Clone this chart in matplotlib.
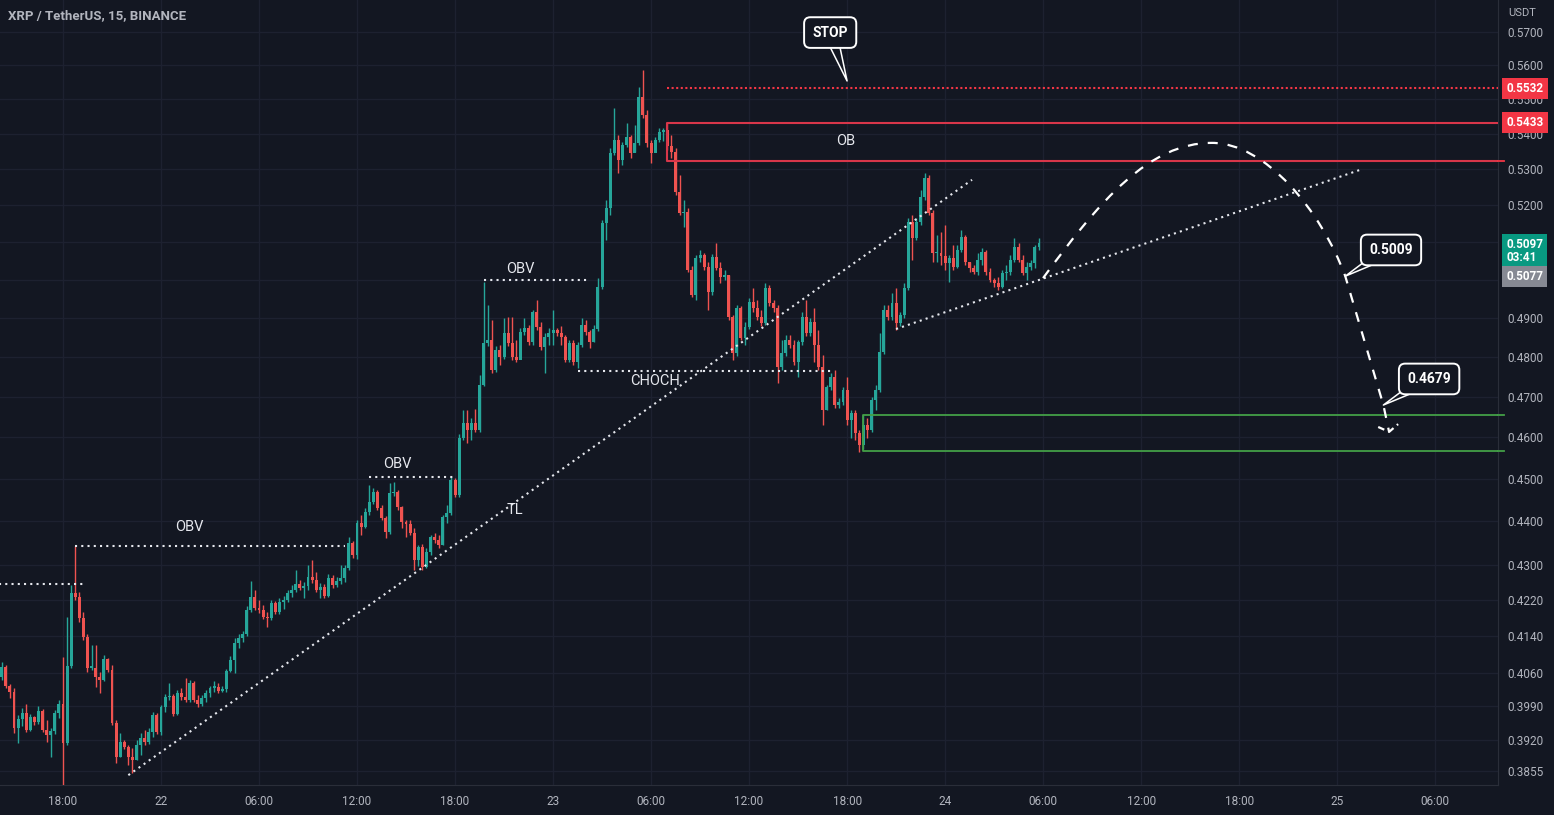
import numpy as np
import pandas as pd
import matplotlib
matplotlib.use('Agg')
import matplotlib.pyplot as plt
import matplotlib.dates as mdates
import matplotlib.transforms as mtransforms
from matplotlib.path import Path
from matplotlib.patches import PathPatch
from matplotlib.ticker import FixedLocator, FixedFormatter, NullLocator

plt.rcParams['font.family'] = ['Roboto', 'DejaVu Sans']

# ---- data (XRP/USDT 15m candles) ----
start_time = '2023-03-21 14:15'
first_open = 0.4052

closes = [
    0.4074, 0.4033, 0.4020, 0.3944, 0.3963, 0.3976, 0.3940, 0.3967, 0.3957, 0.3980,
    0.3940, 0.3930, 0.3938, 0.3976, 0.3995, 0.3913, 0.4076, 0.4236, 0.4228, 0.4180,
    0.4139, 0.4072, 0.4072, 0.4052, 0.4046, 0.4091, 0.4067, 0.3955, 0.3884, 0.3915,
    0.3905, 0.3884, 0.3878, 0.3909, 0.3923, 0.3915, 0.3936, 0.3971, 0.3936, 0.3988,
    0.4009, 0.4011, 0.3974, 0.4018, 0.4009, 0.4003, 0.4040, 0.4003, 0.3995, 0.4007,
    0.4018, 0.4029, 0.4031, 0.4022, 0.4027, 0.4065, 0.4089, 0.4125, 0.4136, 0.4145,
    0.4198, 0.4228, 0.4203, 0.4198, 0.4183, 0.4180, 0.4214, 0.4194, 0.4216, 0.4221,
    0.4236, 0.4243, 0.4256, 0.4247, 0.4252, 0.4272, 0.4265, 0.4243, 0.4250, 0.4230,
    0.4270, 0.4254, 0.4263, 0.4270, 0.4293, 0.4350, 0.4323, 0.4396, 0.4387, 0.4421,
    0.4445, 0.4468, 0.4431, 0.4408, 0.4375, 0.4466, 0.4468, 0.4433, 0.4398, 0.4394,
    0.4373, 0.4311, 0.4341, 0.4295, 0.4329, 0.4364, 0.4357, 0.4346, 0.4410, 0.4419,
    0.4497, 0.4461, 0.4598, 0.4635, 0.4618, 0.4635, 0.4618, 0.4729, 0.4835, 0.4843,
    0.4767, 0.4817, 0.4800, 0.4861, 0.4835, 0.4800, 0.4792, 0.4864, 0.4874, 0.4838,
    0.4915, 0.4876, 0.4825, 0.4851, 0.4861, 0.4869, 0.4861, 0.4851, 0.4792, 0.4835,
    0.4787, 0.4830, 0.4881, 0.4864, 0.4838, 0.4871, 0.4981, 0.5152, 0.5193, 0.5347,
    0.5383, 0.5327, 0.5369, 0.5392, 0.5347, 0.5375, 0.5508, 0.5456, 0.5375, 0.5347,
    0.5383, 0.5406, 0.5412, 0.5366, 0.5349, 0.5237, 0.5180, 0.5183, 0.5026, 0.4960,
    0.5057, 0.5065, 0.5034, 0.4968, 0.5060, 0.5031, 0.5007, 0.5013, 0.4902, 0.4810,
    0.4925, 0.4848, 0.4876, 0.4941, 0.4925, 0.4902, 0.4886, 0.4978, 0.4938, 0.4925,
    0.4775, 0.4810, 0.4843, 0.4830, 0.4787, 0.4838, 0.4902, 0.4861, 0.4889, 0.4830,
    0.4775, 0.4667, 0.4724, 0.4749, 0.4680, 0.4687, 0.4716, 0.4642, 0.4660, 0.4611,
    0.4581, 0.4630, 0.4618, 0.4692, 0.4716, 0.4812, 0.4920, 0.4902, 0.4938, 0.4886,
    0.4907, 0.4978, 0.5155, 0.5111, 0.5155, 0.5223, 0.5277, 0.5180, 0.5071, 0.5071,
    0.5063, 0.5044, 0.5057, 0.5034, 0.5079, 0.5114, 0.5047, 0.5031, 0.5021, 0.5052,
    0.5074, 0.5021, 0.4999, 0.4991, 0.4981, 0.5018, 0.5021, 0.5052, 0.5087, 0.5052,
    0.5018, 0.5034, 0.5044, 0.5087, 0.5097,
]

highs = [
    0.4085, 0.4078, 0.4037, 0.4029, 0.3971, 0.3986, 0.3995, 0.3974, 0.3969, 0.3990,
    0.3984, 0.3961, 0.3944, 0.3982, 0.4003, 0.4095, 0.4183, 0.4254, 0.4343, 0.4238,
    0.4194, 0.4145, 0.4121, 0.4121, 0.4063, 0.4099, 0.4093, 0.4078, 0.3961, 0.3934,
    0.3919, 0.3909, 0.3903, 0.3919, 0.3934, 0.3940, 0.3944, 0.3978, 0.3976, 0.3993,
    0.4016, 0.4040, 0.4016, 0.4024, 0.4029, 0.4050, 0.4046, 0.4044, 0.4014, 0.4014,
    0.4024, 0.4033, 0.4044, 0.4040, 0.4033, 0.4069, 0.4097, 0.4136, 0.4145, 0.4152,
    0.4207, 0.4263, 0.4243, 0.4221, 0.4209, 0.4194, 0.4221, 0.4219, 0.4225, 0.4230,
    0.4243, 0.4254, 0.4288, 0.4265, 0.4261, 0.4299, 0.4311, 0.4283, 0.4258, 0.4256,
    0.4279, 0.4277, 0.4272, 0.4299, 0.4299, 0.4364, 0.4355, 0.4403, 0.4415, 0.4431,
    0.4485, 0.4478, 0.4473, 0.4438, 0.4412, 0.4490, 0.4492, 0.4473, 0.4436, 0.4403,
    0.4403, 0.4385, 0.4346, 0.4348, 0.4339, 0.4369, 0.4373, 0.4369, 0.4415, 0.4438,
    0.4504, 0.4502, 0.4608, 0.4667, 0.4667, 0.4647, 0.4669, 0.4754, 0.4994, 0.4933,
    0.4894, 0.4827, 0.4830, 0.4899, 0.4902, 0.4902, 0.4843, 0.4874, 0.4899, 0.4881,
    0.4920, 0.4946, 0.4889, 0.4861, 0.4874, 0.4920, 0.4874, 0.4879, 0.4856, 0.4843,
    0.4843, 0.4838, 0.4899, 0.4894, 0.4869, 0.4881, 0.5004, 0.5160, 0.5215, 0.5361,
    0.5476, 0.5398, 0.5378, 0.5432, 0.5398, 0.5427, 0.5537, 0.5587, 0.5470, 0.5383,
    0.5392, 0.5418, 0.5418, 0.5433, 0.5398, 0.5361, 0.5285, 0.5215, 0.5193, 0.5036,
    0.5065, 0.5079, 0.5071, 0.5047, 0.5068, 0.5098, 0.5047, 0.5026, 0.5013, 0.4907,
    0.4933, 0.4930, 0.4889, 0.4952, 0.4978, 0.4946, 0.4920, 0.4991, 0.4986, 0.4946,
    0.4933, 0.4843, 0.4856, 0.4856, 0.4843, 0.4843, 0.4915, 0.4946, 0.4899, 0.4925,
    0.4869, 0.4805, 0.4729, 0.4759, 0.4767, 0.4697, 0.4724, 0.4749, 0.4667, 0.4667,
    0.4618, 0.4654, 0.4647, 0.4699, 0.4729, 0.4861, 0.4933, 0.4933, 0.4965, 0.4978,
    0.4915, 0.4991, 0.5166, 0.5174, 0.5166, 0.5243, 0.5291, 0.5285, 0.5188, 0.5120,
    0.5128, 0.5147, 0.5065, 0.5093, 0.5093, 0.5133, 0.5120, 0.5047, 0.5039, 0.5071,
    0.5084, 0.5079, 0.5031, 0.5004, 0.5007, 0.5026, 0.5039, 0.5065, 0.5111, 0.5098,
    0.5065, 0.5047, 0.5052, 0.5093, 0.5111,
]

lows = [
    0.4046, 0.4029, 0.4007, 0.3934, 0.3913, 0.3948, 0.3936, 0.3938, 0.3950, 0.3953,
    0.3936, 0.3915, 0.3884, 0.3932, 0.3965, 0.3823, 0.3909, 0.4072, 0.4221, 0.4172,
    0.4132, 0.4063, 0.4067, 0.4031, 0.4018, 0.4044, 0.4063, 0.3950, 0.3872, 0.3884,
    0.3901, 0.3868, 0.3852, 0.3878, 0.3888, 0.3909, 0.3911, 0.3925, 0.3932, 0.3930,
    0.3978, 0.4003, 0.3969, 0.3971, 0.4003, 0.3999, 0.3999, 0.3999, 0.3988, 0.3990,
    0.3999, 0.4009, 0.4020, 0.4018, 0.4020, 0.4020, 0.4063, 0.4061, 0.4114, 0.4128,
    0.4141, 0.4194, 0.4198, 0.4192, 0.4178, 0.4161, 0.4176, 0.4189, 0.4189, 0.4201,
    0.4216, 0.4228, 0.4238, 0.4243, 0.4225, 0.4243, 0.4258, 0.4238, 0.4225, 0.4225,
    0.4228, 0.4247, 0.4250, 0.4256, 0.4261, 0.4288, 0.4316, 0.4313, 0.4369, 0.4385,
    0.4415, 0.4440, 0.4426, 0.4403, 0.4362, 0.4371, 0.4459, 0.4426, 0.4385, 0.4364,
    0.4369, 0.4288, 0.4297, 0.4288, 0.4293, 0.4323, 0.4350, 0.4339, 0.4346, 0.4396,
    0.4415, 0.4457, 0.4457, 0.4593, 0.4586, 0.4593, 0.4613, 0.4613, 0.4726, 0.4827,
    0.4759, 0.4762, 0.4779, 0.4795, 0.4827, 0.4792, 0.4787, 0.4820, 0.4856, 0.4830,
    0.4830, 0.4869, 0.4817, 0.4759, 0.4830, 0.4830, 0.4853, 0.4830, 0.4787, 0.4787,
    0.4779, 0.4772, 0.4825, 0.4856, 0.4822, 0.4838, 0.4866, 0.4975, 0.5106, 0.5174,
    0.5341, 0.5291, 0.5313, 0.5364, 0.5333, 0.5349, 0.5369, 0.5447, 0.5364, 0.5319,
    0.5355, 0.5378, 0.5380, 0.5355, 0.5333, 0.5229, 0.5174, 0.5141, 0.5021, 0.4955,
    0.4946, 0.5047, 0.5026, 0.4920, 0.4960, 0.5026, 0.4991, 0.4999, 0.4894, 0.4792,
    0.4802, 0.4843, 0.4830, 0.4871, 0.4915, 0.4894, 0.4879, 0.4881, 0.4930, 0.4915,
    0.4734, 0.4767, 0.4802, 0.4822, 0.4779, 0.4749, 0.4830, 0.4853, 0.4853, 0.4787,
    0.4767, 0.4630, 0.4667, 0.4716, 0.4672, 0.4672, 0.4680, 0.4630, 0.4598, 0.4593,
    0.4564, 0.4571, 0.4598, 0.4613, 0.4667, 0.4711, 0.4807, 0.4894, 0.4894, 0.4869,
    0.4879, 0.4899, 0.4973, 0.5052, 0.5106, 0.5147, 0.5215, 0.5174, 0.5047, 0.5047,
    0.5039, 0.5026, 0.4994, 0.5026, 0.5031, 0.5074, 0.5039, 0.5021, 0.5015, 0.5013,
    0.5039, 0.5013, 0.4994, 0.4981, 0.4973, 0.4978, 0.4999, 0.5013, 0.5047, 0.5047,
    0.5013, 0.4999, 0.5026, 0.5031, 0.5079,
]

y_ticks = [0.5700, 0.5600, 0.5500, 0.5400, 0.5300, 0.5200, 0.5100, 0.5000, 0.4900,
           0.4800, 0.4700, 0.4600, 0.4500, 0.4400, 0.4300, 0.4220, 0.4140, 0.4060,
           0.3990, 0.3920, 0.3855]
# 0.5100 / 0.5000 sit under the live price labels, so they are not shown
y_tick_labels = ['0.5700', '0.5600', '0.5500', '0.5400', '0.5300', '0.5200', '', '',
                 '0.4900', '0.4800', '0.4700', '0.4600', '0.4500', '0.4400', '0.4300',
                 '0.4220', '0.4140', '0.4060', '0.3990', '0.3920', '0.3855']
x_ticks = pd.date_range('2023-03-21 18:00', '2023-03-25 06:00', freq='6h')
x_tick_labels = ['18:00', '22', '06:00', '12:00', '18:00', '23', '06:00', '12:00',
                 '18:00', '24', '06:00', '12:00', '18:00', '25', '06:00']

stop_price = 0.5532
ob_top, ob_bottom = 0.5433, 0.5325
demand_top, demand_bottom = 0.4654, 0.4566
last_price, last_countdown = 0.5097, '03:41'
prev_price = 0.5077
target1, target2 = 0.5009, 0.4679

# ---- style ----
BG = '#131722'
UP = '#26a69a'
DOWN = '#ef5350'
GRID = '#1d2130'
AXIS_TXT = '#b2b5be'
DOT = '#e6e8ee'
RED = '#f23645'
GREEN = '#43a047'


def ts(s):
    return mdates.date2num(pd.Timestamp(s))


fig = plt.figure(figsize=(15.54, 8.15), dpi=100, facecolor=BG)
ax = fig.add_axes([0, 0.0368, 1498 / 1554, 1 - 0.0368])
ax.set_facecolor(BG)

# candles
times = pd.date_range(start_time, periods=len(closes), freq='15min')
x = mdates.date2num(times)
c = np.array(closes)
o = np.array([first_open] + closes[:-1])
colors = np.where(c >= o, UP, DOWN)
w = 15 / 1440 * 0.72
ax.vlines(x, lows, highs, colors=colors, linewidth=1, zorder=3)
ax.bar(x, np.maximum(np.abs(c - o), 0.0003), bottom=np.minimum(o, c), width=w,
       color=colors, linewidth=0, zorder=3)

ax.set_yscale('log')
ax.set_ylim(0.3827, 0.5797)
ax.set_xlim(ts('2023-03-21 14:08:36'), ts('2023-03-25 09:51'))

ax.yaxis.set_major_locator(FixedLocator(y_ticks))
ax.yaxis.set_minor_locator(NullLocator())
ax.yaxis.set_major_formatter(FixedFormatter(y_tick_labels))
ax.yaxis.tick_right()
ax.xaxis.set_major_locator(FixedLocator(mdates.date2num(x_ticks)))
ax.xaxis.set_major_formatter(FixedFormatter(x_tick_labels))
ax.tick_params(axis='both', length=0, labelsize=8.5, labelcolor=AXIS_TXT)
ax.tick_params(axis='y', pad=7)
ax.tick_params(axis='x', pad=7)
ax.grid(True, color=GRID, linewidth=1)
ax.set_axisbelow(True)
for s in ['top', 'left']:
    ax.spines[s].set_visible(False)
for s in ['right', 'bottom']:
    ax.spines[s].set_color('#2a2e39')

far_right = ts('2023-03-26')
dotted = dict(color=DOT, linewidth=1.5, linestyle=(0, (1, 2)), zorder=4)

# structure levels
ax.plot([ts('2023-03-21 12:00'), ts('2023-03-21 19:20')], [0.4256, 0.4256], **dotted)
ax.plot([ts('2023-03-21 18:45'), ts('2023-03-22 11:15')], [0.4343, 0.4343], **dotted)
ax.plot([ts('2023-03-22 12:45'), ts('2023-03-22 18:00')], [0.4505, 0.4505], **dotted)
ax.plot([ts('2023-03-22 19:45'), ts('2023-03-23 02:15')], [0.4999, 0.4999], **dotted)
ax.plot([ts('2023-03-23 01:30'), ts('2023-03-23 17:00')], [0.4764, 0.4764], **dotted)
# trend lines
ax.plot([ts('2023-03-21 22:00'), ts('2023-03-24 01:39')], [0.3847, 0.5271], **dotted)
ax.plot([ts('2023-03-23 21:00'), ts('2023-03-25 01:25')], [0.4871, 0.5299], **dotted)

lbl = dict(color='#e6e8ee', fontsize=10.5, ha='center', va='center', zorder=6)
ax.text(ts('2023-03-22 01:45'), 0.4387, 'OBV', **lbl)
ax.text(ts('2023-03-22 14:30'), 0.4536, 'OBV', **lbl)
ax.text(ts('2023-03-22 22:00'), 0.5029, 'OBV', **lbl)
ax.text(ts('2023-03-23 06:15'), 0.4739, 'CHOCH', **lbl)
ax.text(ts('2023-03-22 21:40'), 0.4426, 'TL', **lbl)
ax.text(ts('2023-03-23 17:55'), 0.5380, 'OB', **lbl)

# stop, order block, demand zone
ax.plot([ts('2023-03-23 07:00'), far_right], [stop_price, stop_price], color=RED,
        linewidth=1.5, linestyle=(0, (1, 1.2)), zorder=4)
ob_x = ts('2023-03-23 07:00')
ax.plot([far_right, ob_x, ob_x, far_right], [ob_top, ob_top, ob_bottom, ob_bottom],
        color='#d8364a', linewidth=1.5, zorder=4)
dz_x = ts('2023-03-23 19:00')
ax.plot([far_right, dz_x, dz_x, far_right],
        [demand_top, demand_top, demand_bottom, demand_bottom],
        color=GREEN, linewidth=1.3, zorder=4)

# projected path
p0 = (ts('2023-03-24 06:00'), 0.5004)
peak = (ts('2023-03-24 16:20'), 0.5375)
t1 = (ts('2023-03-25 00:30'), target1)
t2 = (ts('2023-03-25 02:50'), target2)
tip = (ts('2023-03-25 03:11'), 0.4613)
verts = [p0, (ts('2023-03-24 09:30'), 0.5215), (ts('2023-03-24 12:30'), 0.5375), peak,
         (ts('2023-03-24 19:35'), 0.5375), (ts('2023-03-24 23:00'), 0.5188), t1,
         t2, tip]
codes = [Path.MOVETO, Path.CURVE4, Path.CURVE4, Path.CURVE4,
         Path.CURVE4, Path.CURVE4, Path.CURVE4, Path.LINETO, Path.LINETO]
ax.add_patch(PathPatch(Path(verts, codes), fill=False, edgecolor='white', linewidth=1.6,
                       linestyle=(0, (4.5, 4.5)), zorder=5))
ax.plot([ts('2023-03-25 02:31'), tip[0], ts('2023-03-25 03:44')], [0.4625, tip[1], 0.4632],
        color='white', linewidth=1.6, linestyle=(0, (3, 2)), zorder=5)


def callout(text, tip_xy, box_xy):
    ax.annotate(text, xy=tip_xy, xytext=box_xy, ha='center', va='center',
                fontsize=10, fontweight='bold', color='white', zorder=7,
                bbox=dict(boxstyle='round,pad=0.6,rounding_size=0.45', fc=BG,
                          ec='white', lw=1.4),
                arrowprops=dict(arrowstyle='wedge,tail_width=0.9,shrink_factor=0.5',
                                fc=BG, ec='white', lw=1.1, patchA=None, shrinkB=0))


callout('STOP', (ts('2023-03-23 18:00'), 0.5554), (ts('2023-03-23 16:58'), 0.5698))
callout(f'{target1:.4f}', t1, (ts('2023-03-25 03:18'), 0.5079))
callout(f'{target2:.4f}', t2, (ts('2023-03-25 05:38'), 0.4744))

# price axis labels
ytrans = mtransforms.blended_transform_factory(ax.transAxes, ax.transData)


def axis_label(price, text, fc, dy=0, va='center'):
    ax.annotate(text, xy=(1.0, price), xycoords=ytrans, xytext=(6, dy),
                textcoords='offset points', ha='left', va=va, fontsize=8.5,
                fontweight='bold', color='white', linespacing=1.05,
                bbox=dict(boxstyle='square,pad=0.35', fc=fc, ec='none'),
                annotation_clip=False, zorder=10)


for p, col in [(ob_bottom, RED), (demand_top, GREEN), (demand_bottom, GREEN)]:
    ax.plot([1.0, 1.004], [p, p], color=col, linewidth=1.3, transform=ytrans,
            clip_on=False, zorder=9)

axis_label(stop_price, f'{stop_price:.4f}', RED)
axis_label(ob_top, f'{ob_top:.4f}', RED)
axis_label(last_price, f'{last_price:.4f}\n{last_countdown}', '#089981', dy=-5.5)
axis_label(prev_price, f'{prev_price:.4f}', '#868993', dy=-18.5)

fig.text(8 / 1554, 1 - 16 / 815, 'XRP / TetherUS, 15, BINANCE', color=AXIS_TXT,
         fontsize=9.5, fontweight='bold', va='center', ha='left')
fig.text(1508 / 1554, 1 - 13 / 815, 'USDT', color=AXIS_TXT, fontsize=8,
         va='center', ha='left')

fig.savefig('out.png', dpi=100, facecolor=BG)
